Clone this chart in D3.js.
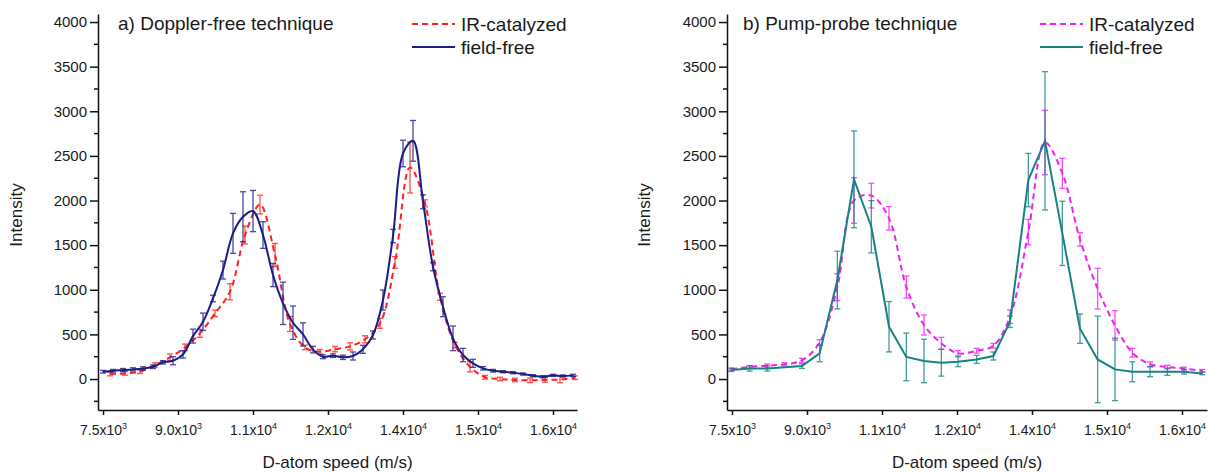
<!DOCTYPE html>
<html>
<head>
<meta charset="utf-8">
<script src="https://cdn.jsdelivr.net/npm/d3@7"></script>
<style>
  body { margin: 0; background: #fff; }
  text { font-family: "Liberation Sans", Arial, sans-serif; fill: #1a1a1a; }
</style>
</head>
<body>
<div id="chart"></div>
<script>
/* values (D-atom speed in m/s, intensity in counts) */

// a) Doppler-free technique
var speedA_free = [7500, 7700, 7900, 8100, 8300, 8500, 8700, 8900, 9100, 9300, 9500, 9700,
  9900, 10100, 10300, 10500, 10700, 10900, 11100, 11300, 11500, 11700, 11900, 12100,
  12300, 12500, 12700, 12900, 13100, 13300, 13500, 13700, 13900, 14100, 14300, 14500,
  14700, 14900, 15100, 15300, 15500, 15700, 15900, 16100, 16300, 16500, 16700, 16900];
var intA_free = [82, 93, 100, 108, 119, 138, 187, 205, 276, 481, 642, 903,
  1221, 1632, 1818, 1882, 1613, 1165, 848, 631, 500, 330, 250, 262,
  243, 258, 333, 493, 885, 1602, 2527, 2669, 1986, 1258, 810, 456,
  269, 176, 120, 93, 82, 71, 56, 37, 26, 41, 34, 41];
var errA_free = [15, 15, 18, 18, 18, 20, 19, 45, 41, 78, 97, 37,
  100, 224, 280, 231, 149, 130, 237, 187, 130, 37, 22, 20,
  24, 45, 45, 45, 112, 75, 149, 228, 78, 45, 112, 138,
  75, 45, 19, 15, 12, 12, 12, 12, 12, 12, 12, 12];

var speedA_ir = [7640, 7940, 8240, 8540, 8840, 9140, 9440, 9740, 10040, 10340, 10640,
  10940, 11240, 11540, 11840, 12140, 12440, 12740, 13040, 13340, 13640, 13940,
  14240, 14540, 14840, 15140, 15440, 15740, 16040, 16340, 16640, 16940];
var intA_ir = [56, 63, 82, 157, 243, 355, 512, 736, 978, 1613, 1955,
  1389, 616, 355, 306, 335, 366, 445, 624, 1307, 2370, 1968,
  922, 381, 136, 20, 0, -10, -15, -10, -5, 15];
var errA_ir = [20, 20, 20, 25, 37, 37, 45, 37, 90, 100, 105,
  130, 84, 25, 25, 30, 40, 40, 56, 65, 285, 40,
  40, 30, 56, 20, 20, 20, 25, 25, 37, 20];

// b) Pump-probe technique
var speedB_free = [7486, 7853, 8207, 8900, 9253, 9607, 9940, 10287, 10640, 10987, 11340,
  11687, 12020, 12393, 12727, 13060, 13427, 13760, 14107, 14460, 14813, 15160,
  15507, 15860, 16207, 16540, 16907];
var intB_free = [100, 119, 119, 145, 287, 1109, 2237, 1706, 586, 248, 202,
  183, 194, 220, 258, 642, 2229, 2669, 1632, 564, 220, 108,
  82, 82, 82, 82, 63];
var errB_free = [15, 30, 30, 26, 93, 323, 542, 293, 282, 267, 243,
  150, 56, 45, 45, 65, 299, 775, 360, 164, 485, 350,
  112, 56, 41, 26, 15];

var speedB_ir = [7486, 7853, 8207, 8550, 8900, 9253, 9607, 9940, 10287, 10640, 10987,
  11340, 11687, 12020, 12393, 12727, 13060, 13427, 13760, 14107, 14460, 14813,
  15160, 15507, 15860, 16207, 16540, 16907];
var intB_ir = [110, 135, 150, 165, 210, 410, 1030, 2000, 2055, 1800, 1031,
  605, 400, 288, 317, 373, 698, 1647, 2650, 2305, 1565, 1012,
  601, 295, 165, 135, 118, 92];
var errB_ir = [15, 15, 18, 18, 22, 30, 150, 255, 138, 131, 123,
  112, 67, 30, 26, 26, 75, 142, 360, 168, 75, 228,
  164, 49, 26, 20, 15, 15];

// axes
var yTicks = [0, 500, 1000, 1500, 2000, 2500, 3000, 3500, 4000];
var yMinor = [-250, 250, 750, 1250, 1750, 2250, 2750, 3250, 3750];
var xTicks = [7500, 9000, 10500, 12000, 13500, 15000, 16500];
var xTickMant = ["7.5", "9.0", "1.1", "1.2", "1.4", "1.5", "1.6"];
var xTickExp = ["3", "3", "4", "4", "4", "4", "4"];

var svg = d3.select("#chart").append("svg")
  .attr("width", 1209)
  .attr("height", 472);

var y = d3.scaleLinear().domain([-347, 4090]).range([410, 14]);

function drawPanel(p) {
  var x = d3.scaleLinear().domain(p.xDomain).range(p.xRange);
  var g = svg.append("g");

  // y axis
  var yAxis = g.append("g")
    .attr("transform", "translate(" + p.xRange[0] + ",0)")
    .call(d3.axisLeft(y).tickValues(yTicks).tickFormat(d3.format("d"))
      .tickSize(8).tickPadding(3).tickSizeOuter(0));
  yAxis.selectAll(".tick text").attr("font-size", 15).attr("font-family", "Liberation Sans, Arial, sans-serif");
  yAxis.selectAll("line, path").attr("stroke", "#111").attr("stroke-width", 1.5);
  yAxis.selectAll(".minor").data(yMinor).enter().append("line")
    .attr("class", "minor")
    .attr("x1", -4).attr("x2", 0)
    .attr("y1", function(d) { return y(d); })
    .attr("y2", function(d) { return y(d); })
    .attr("stroke", "#111").attr("stroke-width", 1.5);

  // x axis
  var xAxis = g.append("g")
    .attr("transform", "translate(0," + y.range()[0] + ")")
    .call(d3.axisBottom(x).tickValues(xTicks).tickSize(5).tickPadding(6).tickSizeOuter(0).tickFormat(""));
  xAxis.selectAll("line, path").attr("stroke", "#111").attr("stroke-width", 1.5);
  xAxis.selectAll(".tick text").each(function(d, i) {
    var t = d3.select(this)
      .attr("font-size", 14)
      .attr("font-family", "Liberation Sans, Arial, sans-serif")
      .attr("dy", "1em");
    t.append("tspan").text(xTickMant[i] + "x10");
    t.append("tspan").attr("font-size", 9).attr("dy", -6).text(xTickExp[i]);
  });

  // error bars then lines
  function series(xs, ys, es, color, dash, curve) {
    var pts = xs.map(function(d, i) { return {x: d, y: ys[i], e: es[i]}; });
    var eb = g.append("g").attr("stroke", color).attr("stroke-width", 1.3).attr("opacity", 0.8);
    eb.selectAll("line.v").data(pts).enter().append("line")
      .attr("x1", function(d) { return x(d.x); })
      .attr("x2", function(d) { return x(d.x); })
      .attr("y1", function(d) { return y(d.y - d.e); })
      .attr("y2", function(d) { return y(d.y + d.e); });
    [-1, 1].forEach(function(s) {
      eb.selectAll(null).data(pts).enter().append("line")
        .attr("x1", function(d) { return x(d.x) - 3; })
        .attr("x2", function(d) { return x(d.x) + 3; })
        .attr("y1", function(d) { return y(d.y + s * d.e); })
        .attr("y2", function(d) { return y(d.y + s * d.e); });
    });
    var line = d3.line()
      .x(function(d) { return x(d.x); })
      .y(function(d) { return y(d.y); })
      .curve(curve);
    g.append("path")
      .datum(pts)
      .attr("d", line)
      .attr("fill", "none")
      .attr("stroke", color)
      .attr("stroke-width", 2)
      .attr("stroke-dasharray", dash);
  }
  series(p.irX, p.irY, p.irE, p.irColor, "6,4", d3.curveCatmullRom.alpha(0.5));
  series(p.ffX, p.ffY, p.ffE, p.ffColor, null, p.ffCurve);

  // texts
  g.append("text")
    .attr("x", p.titleX).attr("y", 30)
    .attr("font-size", 19)
    .text(p.title);

  var lx = p.legendX;
  g.append("line").attr("x1", lx).attr("x2", lx + 43).attr("y1", 24).attr("y2", 24)
    .attr("stroke", p.irColor).attr("stroke-width", 2).attr("stroke-dasharray", "6,4");
  g.append("text").attr("x", lx + 49).attr("y", 31).attr("font-size", 19).text("IR-catalyzed");
  g.append("line").attr("x1", lx).attr("x2", lx + 43).attr("y1", 47).attr("y2", 47)
    .attr("stroke", p.ffColor).attr("stroke-width", 2);
  g.append("text").attr("x", lx + 49).attr("y", 54).attr("font-size", 19).text("field-free");

  g.append("text")
    .attr("transform", "translate(" + p.yLabelX + ",215) rotate(-90)")
    .attr("text-anchor", "middle")
    .attr("font-size", 17)
    .text("Intensity");

  g.append("text")
    .attr("x", (p.xRange[0] + p.xRange[1]) / 2)
    .attr("y", 468)
    .attr("text-anchor", "middle")
    .attr("font-size", 17)
    .text("D-atom speed (m/s)");
}

drawPanel({
  xDomain: [7400, 16980], xRange: [98, 577],
  irX: speedA_ir, irY: intA_ir, irE: errA_ir, irColor: "#ff2020",
  ffX: speedA_free, ffY: intA_free, ffE: errA_free, ffColor: "#1c1c85",
  ffCurve: d3.curveCatmullRom.alpha(0.5),
  title: "a) Doppler-free technique", titleX: 118, legendX: 412, yLabelX: 22
});

drawPanel({
  xDomain: [7400, 17000], xRange: [727, 1207],
  irX: speedB_ir, irY: intB_ir, irE: errB_ir, irColor: "#f020f0",
  ffX: speedB_free, ffY: intB_free, ffE: errB_free, ffColor: "#178282",
  ffCurve: d3.curveLinear,
  title: "b) Pump-probe technique", titleX: 743, legendX: 1040, yLabelX: 650
});
</script>
</body>
</html>
